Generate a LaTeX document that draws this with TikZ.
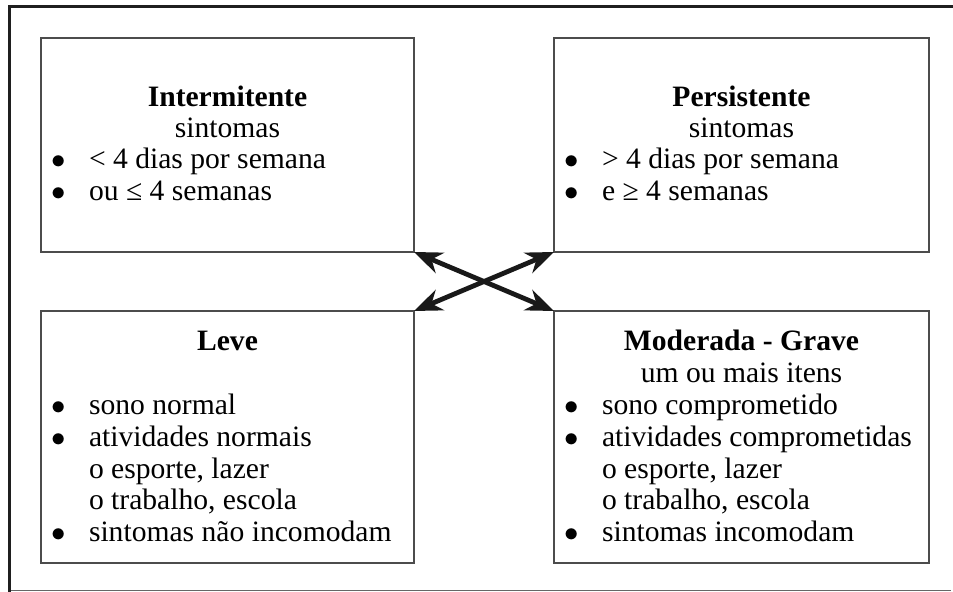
\documentclass[tikz,border=0pt]{standalone}
\usepackage{fontspec}
\setmainfont{Liberation Serif}
\usetikzlibrary{arrows.meta}

\newcommand{\bul}[1]{\makebox[24pt][l]{\hspace{5pt}$\bullet$}#1}
\newcommand{\subl}[1]{\hspace*{24pt}#1}
\newcommand{\lines}[1]{\begin{tabular}[t]{@{}l@{}}#1\end{tabular}}

\begin{document}
\begin{tikzpicture}[x=0.5pt,y=-0.5pt,
  every node/.style={inner sep=0pt,outer sep=0pt,font=\fontsize{14.8}{15.8}\selectfont},
  box/.style={draw=black!70,line width=0.75pt},
  head/.style={anchor=base,font=\fontsize{14.8}{15.8}\selectfont\bfseries},
  sub/.style={anchor=base},
  lst/.style={anchor=base west},
  link/.style={line width=2.4pt,color=black!90,
    {Stealth[length=14pt,width=11pt,inset=4.5pt]}-{Stealth[length=14pt,width=11pt,inset=4.5pt]}}]
\useasboundingbox (0,0) rectangle (953,592);
\draw [line width=1.5pt,black!88] (9.5,592) -- (9.5,6.5) -- (953,6.5);
\draw [line width=0.5pt,black!60] (11,590.5) -- (951,590.5);
% boxes
\node [box,minimum width=186.5pt,minimum height=107pt] (int) at (227.5,145) {};
\node [box,minimum width=187.5pt,minimum height=107pt] (per) at (741.5,145) {};
\node [box,minimum width=186.5pt,minimum height=126pt] (lev) at (227.5,437) {};
\node [box,minimum width=187.5pt,minimum height=126pt] (mod) at (741.5,437) {};
% texts
\node [head] (inth) at (227.5,107) {Intermitente};
\node [sub] (ints) at (227.5,138) {sintomas};
\node [lst] (intl) at (41,169) {\lines{\bul{< 4 dias por semana}\\ \bul{ou ≤ 4 semanas}}};
\node [head] (perh) at (741.5,107) {Persistente};
\node [sub] (pers) at (741.5,138) {sintomas};
\node [lst] (perl) at (554,169) {\lines{\bul{> 4 dias por semana}\\ \bul{e ≥ 4 semanas}}};
\node [head] (levh) at (227.5,351) {Leve};
\node [lst] (levl) at (41,415) {\lines{\bul{sono normal}\\ \bul{atividades normais}\\
  \subl{o esporte, lazer}\\ \subl{o trabalho, escola}\\ \bul{sintomas não incomodam}}};
\node [head] (modh) at (741.5,351) {Moderada - Grave};
\node [sub] (mods) at (741.5,383) {um ou mais itens};
\node [lst] (modl) at (554,415) {\lines{\bul{sono comprometido}\\ \bul{atividades comprometidas}\\
  \subl{o esporte, lazer}\\ \subl{o trabalho, escola}\\ \bul{sintomas incomodam}}};
% arrows
\draw [link] (int.south east) -- (mod.north west);
\draw [link] (per.south west) -- (lev.north east);
\end{tikzpicture}
\end{document}
